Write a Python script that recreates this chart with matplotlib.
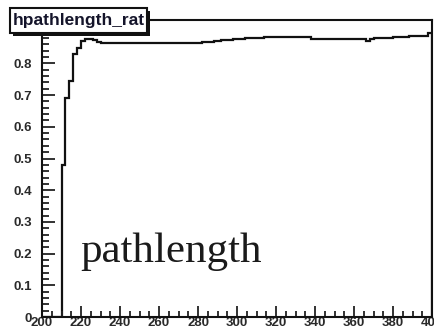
import numpy as np
import matplotlib
matplotlib.use('Agg')
import matplotlib.pyplot as plt
from matplotlib.patches import Rectangle
from matplotlib.ticker import MultipleLocator

# histogram bin edges (width 2) and contents
bin_edges = np.arange(200, 402, 2)
ratio = [
    0.0, 0.0, 0.0, 0.0, 0.0,
    0.48, 0.69, 0.745, 0.83, 0.85, 0.87, 0.876, 0.877, 0.874, 0.867,
    0.865, 0.865, 0.864, 0.865, 0.865, 0.864, 0.864, 0.865, 0.865, 0.865,
    0.864, 0.865, 0.865, 0.865, 0.864, 0.865, 0.865, 0.866, 0.865, 0.865,
    0.866, 0.866, 0.866, 0.866, 0.866,
    0.866, 0.867, 0.868, 0.869, 0.870, 0.872, 0.873, 0.874, 0.875, 0.876,
    0.877, 0.878, 0.879, 0.880, 0.880, 0.881, 0.881, 0.882, 0.882, 0.882,
    0.882, 0.882, 0.883, 0.882, 0.882, 0.882, 0.882, 0.882, 0.882,
    0.878, 0.878, 0.878, 0.878, 0.878, 0.878, 0.878, 0.878, 0.878, 0.878,
    0.878, 0.878, 0.878, 0.877,
    0.872,
    0.878, 0.879, 0.880, 0.880, 0.881, 0.881,
    0.883, 0.884, 0.884, 0.884, 0.885, 0.885, 0.885, 0.886,
    0.888,
    0.895,
]
title = 'hpathlength_rat'
label = 'pathlength'

W, H = 434, 329
fig = plt.figure(figsize=(W / 100, H / 100), dpi=100)
fig.patch.set_facecolor('white')

ax = fig.add_axes([42 / W, 1 - 317 / H, 390 / W, 297 / H])
ax.stairs(ratio, bin_edges, baseline=0, color='#111111', linewidth=1.6)
ax.set_xlim(200, 400)
ax.set_ylim(0, 0.937)

ax.xaxis.set_major_locator(MultipleLocator(20))
ax.xaxis.set_minor_locator(MultipleLocator(5))
ax.yaxis.set_major_locator(MultipleLocator(0.1))
ax.yaxis.set_minor_locator(MultipleLocator(0.02))
ax.yaxis.set_major_formatter(plt.FuncFormatter(lambda v, p: '0' if abs(v) < 1e-9 else '%g' % round(v, 1)))

ax.tick_params(which='both', direction='in', color='#222222', width=1.3,
               top=False, right=False)
ax.tick_params(which='major', length=9, labelsize=9.5, labelcolor='#2a2a2a')
ax.tick_params(axis='y', which='major', pad=7)
ax.tick_params(axis='y', which='minor', length=5)
ax.tick_params(axis='x', which='minor', length=4)
ax.tick_params(axis='x', which='major', length=8, pad=0)
for t in ax.get_xticklabels() + ax.get_yticklabels():
    t.set_fontweight('bold')
    t.set_family('Liberation Sans')
for s in ax.spines.values():
    s.set_linewidth(1.5)
    s.set_color('#111111')

ax.text(219.5, 0.175, label, fontsize=31,
        family='Liberation Serif', color='#1a1a1a', ha='left', va='baseline')

# title box with shadow
bx0, bx1, by0, by1 = 10, 147, 8, 33
sh = 3
fig.patches.append(Rectangle(((bx0 + sh) / W, 1 - (by1 + sh) / H),
                             (bx1 - bx0) / W, (by1 - by0) / H,
                             transform=fig.transFigure, facecolor='#111111',
                             edgecolor='none', zorder=5))
fig.patches.append(Rectangle((bx0 / W, 1 - by1 / H), (bx1 - bx0) / W, (by1 - by0) / H,
                             transform=fig.transFigure, facecolor='white',
                             edgecolor='#111111', linewidth=1.5, zorder=6))
fig.text((bx0 + bx1) / 2 / W, 1 - (by0 + by1) / 2 / H, title, fontsize=12.5,
         fontweight='bold', family='Liberation Sans', color='#14142a',
         ha='center', va='center', zorder=7)

fig.savefig('out.png', dpi=100)
